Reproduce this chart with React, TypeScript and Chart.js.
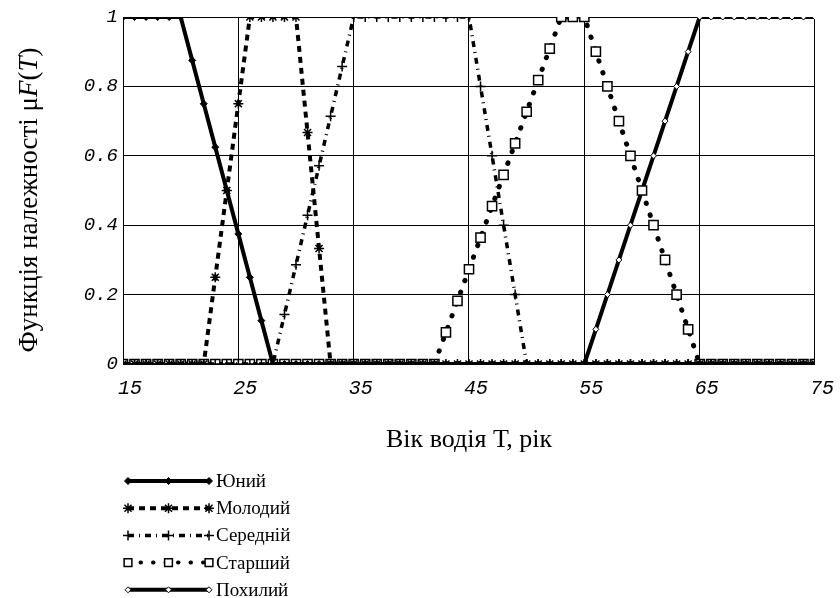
import React, { useEffect, useRef } from "react";
import { Chart, registerables } from "chart.js";

Chart.register(...registerables);

// Age of driver T (years)
const ages = [
  15, 16, 17, 18, 19, 20, 21, 22, 23, 24, 25, 26, 27, 28, 29, 30, 31, 32, 33, 34, 35,
  36, 37, 38, 39, 40, 41, 42, 43, 44, 45, 46, 47, 48, 49, 50, 51, 52, 53, 54, 55,
  56, 57, 58, 59, 60, 61, 62, 63, 64, 65, 66, 67, 68, 69, 70, 71, 72, 73, 74, 75,
];

// Membership values, one per age above
const yuniy = [
  1, 1, 1, 1, 1, 1, 0.875, 0.75, 0.625, 0.5, 0.375, 0.25, 0.125, 0, 0, 0, 0, 0, 0, 0, 0,
  0, 0, 0, 0, 0, 0, 0, 0, 0, 0, 0, 0, 0, 0, 0, 0, 0, 0, 0, 0,
  0, 0, 0, 0, 0, 0, 0, 0, 0, 0, 0, 0, 0, 0, 0, 0, 0, 0, 0, 0,
];
const molodyi = [
  0, 0, 0, 0, 0, 0, 0, 0, 0.25, 0.5, 0.75, 1, 1, 1, 1, 1, 0.667, 0.333, 0, 0, 0,
  0, 0, 0, 0, 0, 0, 0, 0, 0, 0, 0, 0, 0, 0, 0, 0, 0, 0, 0, 0,
  0, 0, 0, 0, 0, 0, 0, 0, 0, 0, 0, 0, 0, 0, 0, 0, 0, 0, 0, 0,
];
const serednii = [
  0, 0, 0, 0, 0, 0, 0, 0, 0, 0, 0, 0, 0, 0, 0.143, 0.286, 0.429, 0.571, 0.714, 0.857, 1,
  1, 1, 1, 1, 1, 1, 1, 1, 1, 1, 0.8, 0.6, 0.4, 0.2, 0, 0, 0, 0, 0, 0,
  0, 0, 0, 0, 0, 0, 0, 0, 0, 0, 0, 0, 0, 0, 0, 0, 0, 0, 0, 0,
];
const starshyi = [
  0, 0, 0, 0, 0, 0, 0, 0, 0, 0, 0, 0, 0, 0, 0, 0, 0, 0, 0, 0, 0,
  0, 0, 0, 0, 0, 0, 0, 0.091, 0.182, 0.273, 0.364, 0.455, 0.545, 0.636, 0.727, 0.818, 0.909, 1, 1, 1,
  0.9, 0.8, 0.7, 0.6, 0.5, 0.4, 0.3, 0.2, 0.1, 0, 0, 0, 0, 0, 0, 0, 0, 0, 0, 0,
];
const pokhylyi = [
  0, 0, 0, 0, 0, 0, 0, 0, 0, 0, 0, 0, 0, 0, 0, 0, 0, 0, 0, 0, 0,
  0, 0, 0, 0, 0, 0, 0, 0, 0, 0, 0, 0, 0, 0, 0, 0, 0, 0, 0, 0,
  0.1, 0.2, 0.3, 0.4, 0.5, 0.6, 0.7, 0.8, 0.9, 1, 1, 1, 1, 1, 1, 1, 1, 1, 1, 1,
];

const seriesNames = ["Юний", "Молодий", "Середній", "Старший", "Похилий"];
const xTickValues = [15, 25, 35, 45, 55, 65, 75];
const yTickValues = [0, 0.2, 0.4, 0.6, 0.8, 1];
const xTitle = "Вік водія Т, рік";
const yTitleParts: [string, boolean][] = [
  ["Функція належності μ", false],
  ["F", true],
  ["(", false],
  ["T", true],
  [")", false],
];

const SERIF = "'Liberation Serif', 'Times New Roman', serif";
const MONO = "'Liberation Mono', 'Courier New', monospace";

const styles = [
  { borderWidth: 4, borderDash: [] as number[], cap: "butt", pointStyle: "rectRot", radius: 3.5, bg: "#000", pbw: 1 },
  { borderWidth: 4, borderDash: [6, 5], cap: "butt", pointStyle: "star", radius: 5, bg: "#000", pbw: 1.5 },
  { borderWidth: 3.5, borderDash: [6, 5, 1, 5], cap: "butt", pointStyle: "cross", radius: 5, bg: "#000", pbw: 1.5 },
  { borderWidth: 5, borderDash: [0.5, 12], cap: "round", pointStyle: "rect", radius: 6.5, bg: "#fff", pbw: 1.5 },
  { borderWidth: 4, borderDash: [] as number[], cap: "butt", pointStyle: "rectRot", radius: 3, bg: "#fff", pbw: 1 },
];

const seriesValues = [yuniy, molodyi, serednii, starshyi, pokhylyi];

function drawMarker(ctx: CanvasRenderingContext2D, style: string, r: number, x: number, y: number) {
  ctx.beginPath();
  if (style === "rectRot") {
    ctx.moveTo(x, y - r);
    ctx.lineTo(x + r, y);
    ctx.lineTo(x, y + r);
    ctx.lineTo(x - r, y);
    ctx.closePath();
    ctx.fill();
    ctx.stroke();
  } else if (style === "rect") {
    const s = r * Math.SQRT1_2;
    ctx.rect(x - s, y - s, 2 * s, 2 * s);
    ctx.fill();
    ctx.stroke();
  } else if (style === "cross") {
    ctx.moveTo(x - r, y);
    ctx.lineTo(x + r, y);
    ctx.moveTo(x, y - r);
    ctx.lineTo(x, y + r);
    ctx.stroke();
  } else if (style === "star") {
    const d = r * Math.SQRT1_2;
    ctx.moveTo(x - r, y);
    ctx.lineTo(x + r, y);
    ctx.moveTo(x, y - r);
    ctx.lineTo(x, y + r);
    ctx.moveTo(x - d, y - d);
    ctx.lineTo(x + d, y + d);
    ctx.moveTo(x - d, y + d);
    ctx.lineTo(x + d, y - d);
    ctx.stroke();
  }
}

const extrasPlugin = {
  id: "extras",
  afterDraw(chart: any) {
    const ctx: CanvasRenderingContext2D = chart.ctx;
    // Y axis title with mixed italic
    ctx.save();
    ctx.fillStyle = "#000";
    ctx.textBaseline = "middle";
    ctx.textAlign = "left";
    ctx.translate(30, 200);
    ctx.rotate(-Math.PI / 2);
    let total = 0;
    const widths: number[] = [];
    for (const [t, it] of yTitleParts) {
      ctx.font = `${it ? "italic " : ""}27px ${SERIF}`;
      const w = ctx.measureText(t).width;
      widths.push(w);
      total += w;
    }
    let x = -total / 2;
    yTitleParts.forEach(([t, it], i) => {
      ctx.font = `${it ? "italic " : ""}27px ${SERIF}`;
      ctx.fillText(t, x, 0);
      x += widths[i];
    });
    ctx.restore();

    // Legend
    const x0 = 128;
    const x1 = 209;
    const rowY0 = 481;
    const rowGap = 27.2;
    chart.data.datasets.forEach((ds: any, i: number) => {
      const y = rowY0 + i * rowGap;
      const st = styles[i];
      ctx.save();
      ctx.strokeStyle = "#000";
      ctx.lineWidth = Math.min(st.borderWidth, 4);
      ctx.lineCap = st.cap as CanvasLineCap;
      ctx.setLineDash(st.borderDash);
      ctx.beginPath();
      ctx.moveTo(x0, y);
      ctx.lineTo(x1, y);
      ctx.stroke();
      ctx.setLineDash([]);
      ctx.lineCap = "butt";
      [x0, (x0 + x1) / 2, x1].forEach((px) => {
        ctx.fillStyle = st.bg;
        ctx.strokeStyle = "#000";
        ctx.lineWidth = st.pbw;
        drawMarker(ctx, st.pointStyle, Math.min(st.radius, 5.5), px, y);
      });
      ctx.fillStyle = "#000";
      ctx.font = `19px ${SERIF}`;
      ctx.textBaseline = "middle";
      ctx.textAlign = "left";
      ctx.fillText(ds.label, x1 + 7, y + 1);
      ctx.restore();
    });
  },
};

export default function App() {
  const ref = useRef<HTMLCanvasElement | null>(null);
  useEffect(() => {
    if (!ref.current) return;
    const datasets = seriesNames.map((name, i) => {
      const st = styles[i];
      return {
        label: name,
        data: ages.map((a, k) => ({ x: a, y: seriesValues[i][k] })),
        borderColor: "#000",
        backgroundColor: st.bg,
        borderWidth: st.borderWidth,
        borderDash: st.borderDash,
        borderCapStyle: st.cap,
        pointStyle: st.pointStyle,
        pointRadius: st.radius,
        pointBackgroundColor: st.bg,
        pointBorderColor: "#000",
        pointBorderWidth: st.pbw,
        tension: 0,
        fill: false,
      };
    });
    const chart = new Chart(ref.current, {
      type: "line",
      data: { datasets },
      options: {
        animation: false,
        responsive: false,
        devicePixelRatio: 1,
        layout: { padding: { left: 0, right: 23, top: 17, bottom: 0 } },
        plugins: { legend: { display: false }, tooltip: { enabled: false } },
        scales: {
          x: {
            type: "linear",
            min: 15,
            max: 75,
            afterBuildTicks: (scale: any) => {
              scale.ticks = xTickValues.map((v) => ({ value: v }));
            },
            afterFit: (scale: any) => {
              scale.height = 234;
            },
            grid: { color: "#000", lineWidth: 1, drawTicks: false },
            border: { display: true, color: "#000", width: 1 },
            ticks: {
              color: "#000",
              padding: 13,
              labelOffset: 7,
              maxRotation: 0,
              font: { family: MONO, size: 20, style: "italic" },
            },
            title: {
              display: true,
              text: xTitle,
              color: "#000",
              font: { family: SERIF, size: 26 },
              padding: { top: 0, bottom: 142 },
            },
          },
          y: {
            type: "linear",
            min: 0,
            max: 1,
            afterBuildTicks: (scale: any) => {
              scale.ticks = yTickValues.map((v) => ({ value: v }));
            },
            afterFit: (scale: any) => {
              scale.width = 123;
            },
            grid: { color: "#000", lineWidth: 1, drawTicks: false },
            border: { display: true, color: "#000", width: 1 },
            ticks: {
              color: "#000",
              padding: 5,
              font: { family: MONO, size: 19, style: "italic" },
              callback: (v: any) => String(Math.round(Number(v) * 10) / 10),
            },
          },
        },
      },
      plugins: [extrasPlugin],
    } as any);
    return () => chart.destroy();
  }, []);
  return (
    <div style={{ position: "absolute", left: 0, top: 0, width: 840, height: 598, background: "#fff" }}>
      <canvas ref={ref} width={840} height={598} />
    </div>
  );
}
